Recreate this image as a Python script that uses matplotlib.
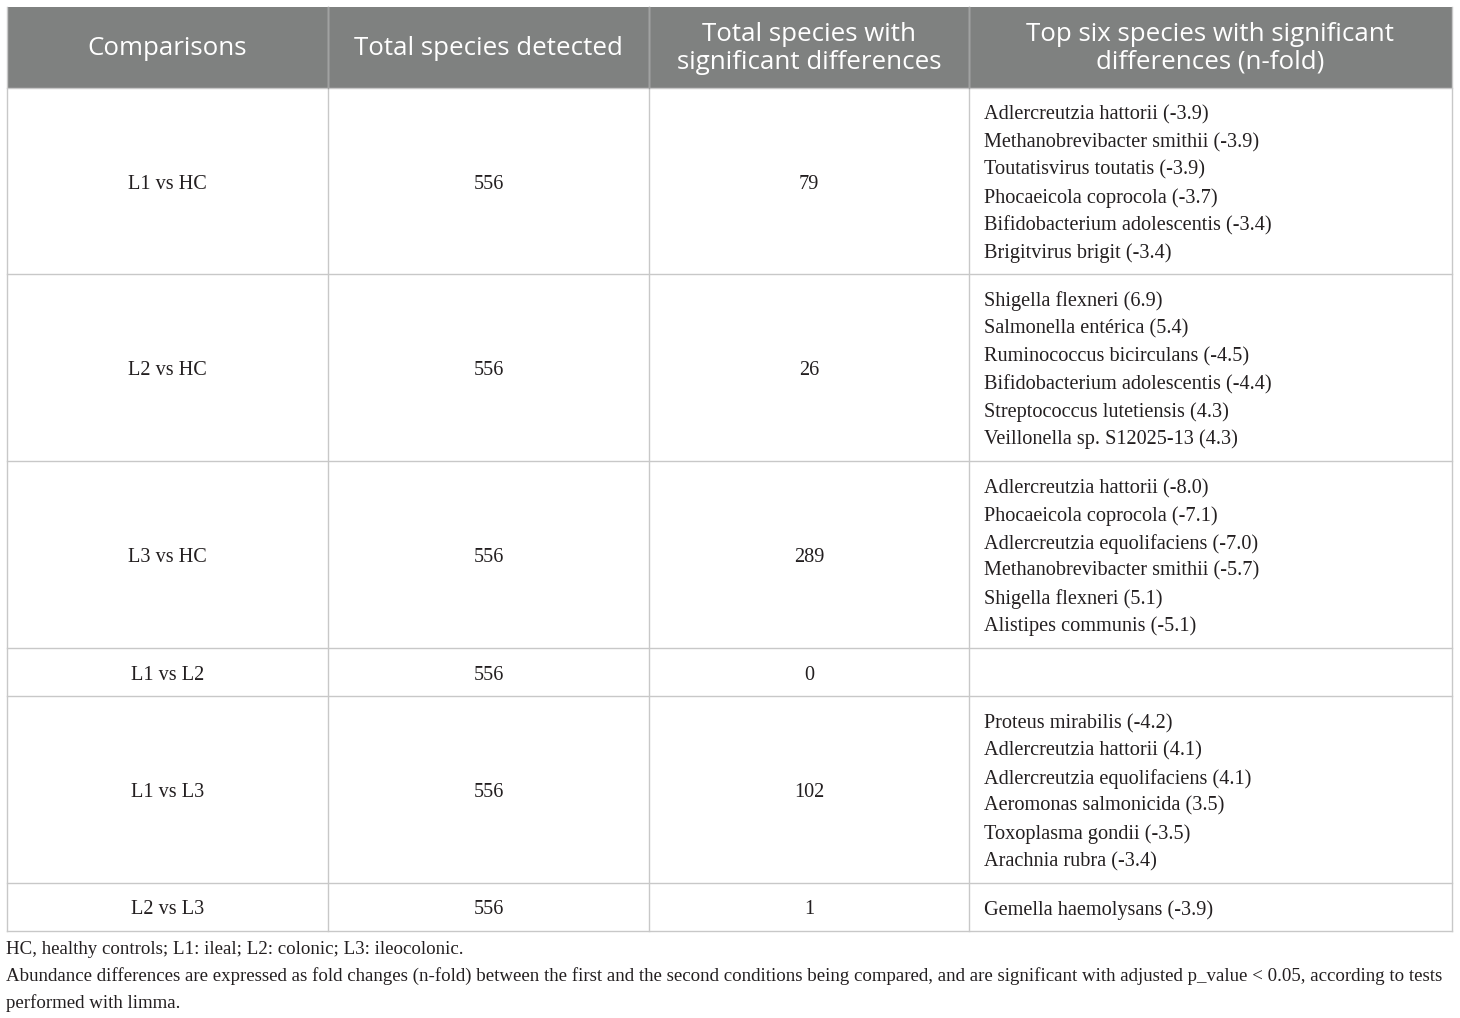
import matplotlib
matplotlib.use("Agg")
import matplotlib.pyplot as plt
from matplotlib.patches import Rectangle

# table content
headers = ["Comparisons", "Total species detected",
           "Total species with\nsignificant differences",
           "Top six species with significant\ndifferences (n-fold)"]
comparisons = ["L1 vs HC", "L2 vs HC", "L3 vs HC", "L1 vs L2", "L1 vs L3", "L2 vs L3"]
total_detected = [556, 556, 556, 556, 556, 556]
total_significant = [79, 26, 289, 0, 102, 1]
top_species = [
    ["Adlercreutzia hattorii (-3.9)", "Methanobrevibacter smithii (-3.9)",
     "Toutatisvirus toutatis (-3.9)", "Phocaeicola coprocola (-3.7)",
     "Bifidobacterium adolescentis (-3.4)", "Brigitvirus brigit (-3.4)"],
    ["Shigella flexneri (6.9)", "Salmonella entérica (5.4)",
     "Ruminococcus bicirculans (-4.5)", "Bifidobacterium adolescentis (-4.4)",
     "Streptococcus lutetiensis (4.3)", "Veillonella sp. S12025-13 (4.3)"],
    ["Adlercreutzia hattorii (-8.0)", "Phocaeicola coprocola (-7.1)",
     "Adlercreutzia equolifaciens (-7.0)", "Methanobrevibacter smithii (-5.7)",
     "Shigella flexneri (5.1)", "Alistipes communis (-5.1)"],
    [],
    ["Proteus mirabilis (-4.2)", "Adlercreutzia hattorii (4.1)",
     "Adlercreutzia equolifaciens (4.1)", "Aeromonas salmonicida (3.5)",
     "Toxoplasma gondii (-3.5)", "Arachnia rubra (-3.4)"],
    ["Gemella haemolysans (-3.9)"],
]
footnotes = [
    "HC, healthy controls; L1: ileal; L2: colonic; L3: ileocolonic.",
    "Abundance differences are expressed as fold changes (n-fold) between the first and the second conditions being compared, and are significant with adjusted p_value < 0.05, according to tests",
    "performed with limma.",
]

W, H = 1460, 1018
col_x = [7, 328, 649, 969, 1452]
row_y = [7, 88, 274, 461, 648, 696, 883, 931]
line_h = 27.6
grid_col = "#c8c8c8"
head_col = "#7f8180"
serif = "Liberation Serif"
sans = "Open Sans"

fig = plt.figure(figsize=(W / 100, H / 100), dpi=100)
ax = fig.add_axes([0, 0, 1, 1])
ax.set_xlim(0, W)
ax.set_ylim(H, 0)
ax.axis("off")

# header band
ax.add_patch(Rectangle((col_x[0], row_y[0]), col_x[-1] - col_x[0], row_y[1] - row_y[0],
                       facecolor=head_col, edgecolor="none"))
for i, h in enumerate(headers):
    cx = (col_x[i] + col_x[i + 1]) / 2
    ax.text(cx, (row_y[0] + row_y[1]) / 2 + 1, h, ha="center", va="center",
            color="white", fontsize=18.6, family=sans, linespacing=1.12)

# grid lines
for x in col_x:
    ax.plot([x, x], [row_y[0], row_y[-1]], color=grid_col, lw=1.0)
for y in row_y[1:]:
    ax.plot([col_x[0], col_x[-1]], [y, y], color=grid_col, lw=1.0)
for x in col_x[1:-1]:
    ax.plot([x, x], [row_y[0], row_y[1]], color="#a0a2a1", lw=1.0)

# body rows
for r in range(len(comparisons)):
    y0, y1 = row_y[r + 1], row_y[r + 2]
    cy = (y0 + y1) / 2 + 3
    vals = [comparisons[r], str(total_detected[r]), str(total_significant[r])]
    for c, v in enumerate(vals):
        ax.text((col_x[c] + col_x[c + 1]) / 2, cy, v, ha="center", va="center",
                fontsize=14.6, family=serif, color="#231f20")
    n = len(top_species[r])
    for k, s in enumerate(top_species[r]):
        ty = cy + (k - (n - 1) / 2) * line_h
        ax.text(col_x[3] + 15, ty, s, ha="left", va="center",
                fontsize=14.6, family=serif, color="#231f20")

# footnotes
for k, f in enumerate(footnotes):
    ax.text(6, 950 + k * 26.3, f, ha="left", va="center",
            fontsize=13.6, family=serif, color="#231f20")

fig.savefig("out.png", dpi=100)
